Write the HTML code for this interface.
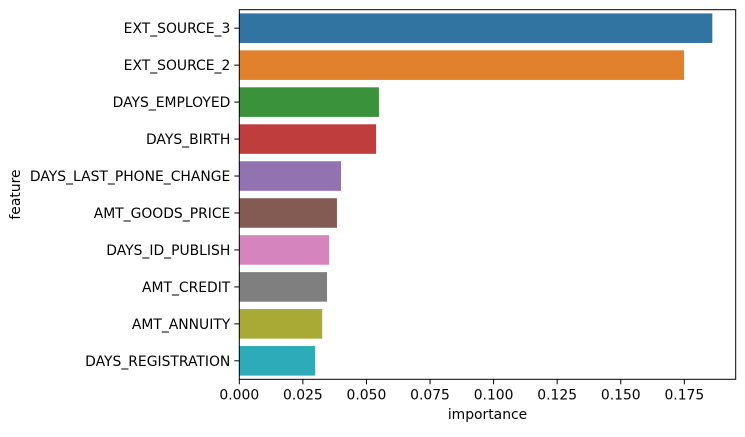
<!DOCTYPE html>
<html><head><meta charset="utf-8"><style>
body{margin:0;background:#fff}
svg text{font-family:"DejaVu Sans","Liberation Sans",sans-serif;font-size:13.9px;fill:#000}
</style></head><body>
<svg id="chart" width="745" height="432" xmlns="http://www.w3.org/2000/svg"></svg>
<script>
const features=["EXT_SOURCE_3","EXT_SOURCE_2","DAYS_EMPLOYED","DAYS_BIRTH","DAYS_LAST_PHONE_CHANGE","AMT_GOODS_PRICE","DAYS_ID_PUBLISH","AMT_CREDIT","AMT_ANNUITY","DAYS_REGISTRATION"];
const importance=[0.186,0.1749,0.0549,0.0538,0.0400,0.0384,0.0353,0.0345,0.0326,0.0298];
const xTicks=[0,0.025,0.05,0.075,0.1,0.125,0.15,0.175];
const xTickLabels=["0.000","0.025","0.050","0.075","0.100","0.125","0.150","0.175"];
const colors=["#3274a1","#e1812c","#3a923a","#c03d3e","#9372b2","#845b53","#d684bd","#7f7f7f","#a9aa35","#2eabb8"];
const L=239.3,R=735.7,T=9.7,B=379.3,XMAX=0.1952;
const x=v=>L+v/XMAX*(R-L);
const band=(B-T)/features.length;
const y=i=>T+band*i;
const svg=document.getElementById('chart');
const NS="http://www.w3.org/2000/svg";
function mk(t,a,txt){const e=document.createElementNS(NS,t);for(const k in a)e.setAttribute(k,a[k]);if(txt!=null)e.textContent=txt;svg.appendChild(e);return e;}
features.forEach((f,i)=>{
  const r=mk('rect',{x:L,y:y(i)+band*0.1,width:x(importance[i])-L,height:band*0.8,fill:colors[i]});
  
  
  const cy=y(i)+band/2;
  mk('line',{x1:L-5,x2:L,y1:cy,y2:cy,stroke:'#000','stroke-width':1});
  const t=mk('text',{x:L-9,y:cy+5,'text-anchor':'end'},f);
  
  
});
xTicks.forEach((v,i)=>{
  const px=x(v);
  mk('line',{x1:px,x2:px,y1:B,y2:B+5,stroke:'#000','stroke-width':1});
  const t=mk('text',{x:px,y:B+20,'text-anchor':'middle'},xTickLabels[i]);
  
  
});
const frame=mk('rect',{x:L,y:T,width:R-L,height:B-T,fill:'none',stroke:'#000','stroke-width':1});


const xt=mk('text',{x:(L+R)/2,y:419,'text-anchor':'middle'},'importance');


const yt=mk('text',{x:0,y:0,'text-anchor':'middle',transform:`translate(20,${(T+B)/2}) rotate(-90)`},'feature');


</script>
</body></html>
